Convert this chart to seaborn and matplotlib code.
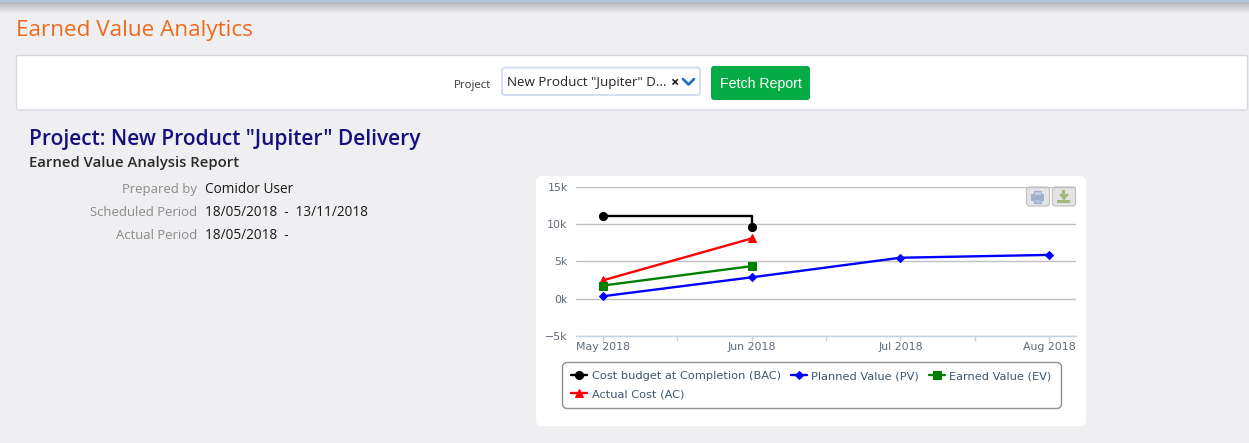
import numpy as np, pandas as pd, matplotlib
matplotlib.use('Agg')
import matplotlib.pyplot as plt
import seaborn as sns
from matplotlib.patches import FancyBboxPatch, Rectangle
from matplotlib.ticker import FuncFormatter, MultipleLocator

sns.set_style('white')
plt.rcParams['font.family'] = ['Open Sans', 'DejaVu Sans']

# ── Data ──────────────────────────────────────────────────────────────
months = ['May 2018', 'Jun 2018', 'Jul 2018', 'Aug 2018']
bac = [11.05, 9.55]
pv = [0.32, 2.85, 5.47, 5.85]
ev = [1.75, 4.35]
ac = [2.45, 8.05]
y_ticks = [-5, 0, 5, 10, 15]
info_labels = ['Prepared by', 'Scheduled Period', 'Actual Period']
info_values = ['Comidor User', '18/05/2018  -  13/11/2018', '18/05/2018  -']

W, H = 1249, 443
BG = '#EFEFF2'
AXIS_TXT = '#5F6B78'
LEGEND_TXT = '#3E576F'

fig = plt.figure(figsize=(W / 100, H / 100), dpi=100, facecolor=BG)

# ── Page furniture, drawn in pixel coordinates ────────────────────────
page = fig.add_axes([0, 0, 1, 1], zorder=0)
page.set_xlim(0, W)
page.set_ylim(H, 0)
page.axis('off')

shade = np.linspace(0, 1, 14)[:, None]
shade_rgb = np.array([0.66, 0.67, 0.71])[None, None, :] * (1 - shade[..., None]) + \
    np.array([0.937, 0.937, 0.949])[None, None, :] * shade[..., None]
page.imshow(shade_rgb, extent=(0, W, 14, 0), aspect='auto', interpolation='bilinear')
page.set_xlim(0, W)
page.set_ylim(H, 0)
page.add_patch(Rectangle((0, 0), W, 1.5, fc='#B4C6E4', ec='none'))


def box(x0, y0, x1, y1, fc, ec='none', r=3, lw=1, z=1):
    page.add_patch(FancyBboxPatch((x0 + r, y0 + r), x1 - x0 - 2 * r, y1 - y0 - 2 * r,
                                  boxstyle=f'round,pad={r},rounding_size={r}',
                                  fc=fc, ec=ec, lw=lw, zorder=z))


def txt(x, y, s, size, color, ha='left', **kw):
    page.text(x, y, s, fontsize=size, color=color, ha=ha, va='center', **kw)


txt(16, 30, 'Earned Value Analytics', 16.2, '#EC6A1C')

box(16.5, 55.5, 1247.5, 110, 'white', '#D3D9DF', r=2)
txt(491, 85, 'Project', 8.2, '#333333', ha='right')
box(502, 67.5, 700, 95, 'white', '#D3DDF3', r=3, lw=1.4)
txt(507, 82, 'New Product "Jupiter" D...', 9.65, '#222222')
txt(674, 83, '×', 10.5, '#111111', ha='center', fontweight='bold')
page.plot([683, 688.5, 694], [79, 84.5, 79], color='#1F6FC0', lw=1.9, solid_capstyle='round', zorder=2)
box(711, 66, 810, 100, '#05AC45', r=3)
txt(760.5, 83.5, 'Fetch Report', 10.2, 'white', ha='center', family=['Liberation Sans'], zorder=3)

txt(29, 139, 'Project: New Product "Jupiter" Delivery', 15.0, '#15107F', fontweight='semibold')
txt(29, 163, 'Earned Value Analysis Report', 10.7, '#2A2A2A', fontweight='semibold')
for i, (lab, val) in enumerate(zip(info_labels, info_values)):
    txt(197, 189.5 + i * 23, lab, 9.45, '#8B8B8B', ha='right')
    txt(205, 189.5 + i * 23, val, 9.8, '#1A1A1A')

box(536, 176, 1086, 426, 'white', r=6)

# export buttons
for x0 in [1026.5, 1052.5]:
    box(x0, 187, x0 + 23, 206, '#E4E4E6', '#C4C4C4', r=3, lw=0.9, z=4)
page.add_patch(Rectangle((1031.5, 194), 13, 6.5, fc='#9DB1CC', ec='none', zorder=5))
page.add_patch(Rectangle((1034.5, 190.5), 7, 4, fc='#C3CFE0', ec='#9DB1CC', lw=0.8, zorder=5))
page.add_patch(Rectangle((1034.5, 199), 7, 4, fc='#B5C4D9', ec='#9DB1CC', lw=0.8, zorder=5))
page.add_patch(Rectangle((1057.5, 199.5), 13, 3.5, fc='#A5B87A', ec='none', zorder=5))
page.fill([1060, 1068, 1064], [194.5, 194.5, 199.5], color='#A5B87A', zorder=5)
page.add_patch(Rectangle((1062.5, 190), 3, 5, fc='#A5B87A', ec='none', zorder=5))

# ── Chart ─────────────────────────────────────────────────────────────
ax_l, ax_r, ax_t, ax_b = 576, 1076, 186.5, 336
ax = fig.add_axes([ax_l / W, 1 - ax_b / H, (ax_r - ax_l) / W, (ax_b - ax_t) / H], zorder=2)
ax.patch.set_alpha(0)

idx = np.arange(len(months))
sns.lineplot(x=idx[:len(bac)], y=bac, ax=ax, color='black', marker='o', markersize=5.8,
             markeredgecolor='black', linewidth=1.7, drawstyle='steps-post',
             label='Cost budget at Completion (BAC)', clip_on=False, zorder=3)
sns.lineplot(x=idx[:len(ac)], y=ac, ax=ax, color='#FF0000', marker='^', markersize=6,
             markeredgecolor='#FF0000', linewidth=1.7, label='Actual Cost (AC)',
             clip_on=False, zorder=4)
sns.lineplot(x=idx, y=pv, ax=ax, color='#0000FF', marker='D', markersize=4.2,
             markeredgecolor='#0000FF', linewidth=1.7, label='Planned Value (PV)',
             clip_on=False, zorder=4)
sns.lineplot(x=idx[:len(ev)], y=ev, ax=ax, color='#008000', marker='s', markersize=5.4,
             markeredgecolor='#008000', linewidth=1.7, label='Earned Value (EV)',
             clip_on=False, zorder=5)

ax.set_xlim(-27 / 148.7, (ax_r - 603) / 148.7)
ax.set_ylim(-5, 15)
ax.set_xticks(idx, months)
ax.xaxis.set_minor_locator(MultipleLocator(0.5))
ax.set_yticks(y_ticks)
ax.yaxis.set_major_formatter(FuncFormatter(lambda v, _: ('\u2212' if v < 0 else '') + f'{abs(v):.0f}k'))
ax.set_xlabel('')
ax.set_ylabel('')
ax.grid(axis='y', color='#C0C0C0', lw=1)
ax.grid(axis='x', visible=False)
ax.set_axisbelow(True)
for side in ['top', 'left', 'right']:
    ax.spines[side].set_visible(False)
ax.spines['bottom'].set_color('#C0D0E0')
ax.spines['bottom'].set_linewidth(1)
ax.tick_params(axis='x', which='both', length=3.5, width=1, color='#C0D0E0', bottom=True, pad=0.5,
               labelcolor=AXIS_TXT, labelsize=7.9)
ax.tick_params(axis='y', length=0, pad=6, labelcolor=AXIS_TXT, labelsize=7.9)
for t in ax.get_xticklabels() + ax.get_yticklabels():
    t.set_family(['DejaVu Sans'])

leg = ax.legend(loc='upper left', bbox_to_anchor=(562 / W, 1 - 362 / H), bbox_transform=fig.transFigure,
                ncol=3, frameon=True, fancybox=True, edgecolor='#8F8F8F', facecolor='white', framealpha=1,
                borderaxespad=0, borderpad=0.8, handlelength=1.42, handletextpad=0.4,
                columnspacing=0.85, labelspacing=0.72,
                prop={'family': ['DejaVu Sans'], 'size': 8.2})
leg.get_frame().set_linewidth(1)
leg.get_frame().set_boxstyle('round', pad=0, rounding_size=0.45)
for t in leg.get_texts():
    t.set_color(LEGEND_TXT)

fig.savefig('out.png', dpi=100, facecolor=BG)
